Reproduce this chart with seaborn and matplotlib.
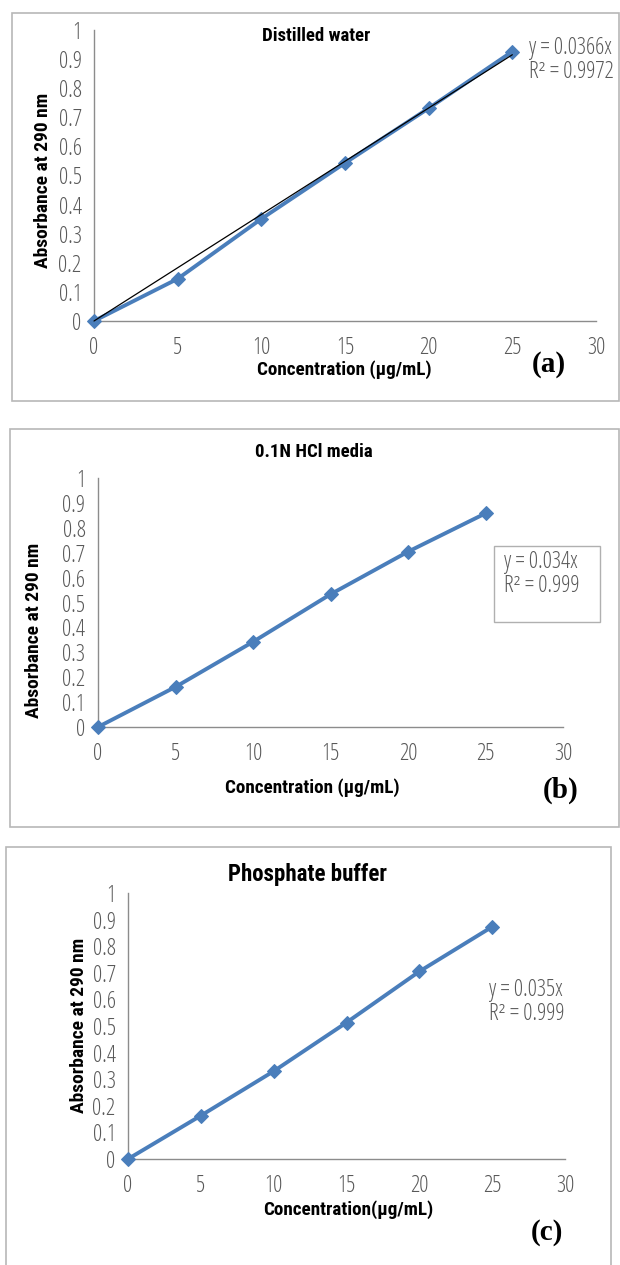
import matplotlib
matplotlib.use("Agg")
import matplotlib.pyplot as plt
from matplotlib import font_manager
from matplotlib.font_manager import FontProperties
from matplotlib.patches import Rectangle
import numpy as np
import pandas as pd
import seaborn as sns

# Calibration data
concentration = [0, 5, 10, 15, 20, 25]
abs_water = [0.0, 0.145, 0.351, 0.543, 0.731, 0.926]
abs_hcl = [0.0, 0.161, 0.342, 0.533, 0.704, 0.858]
abs_phosphate = [0.0, 0.163, 0.330, 0.513, 0.705, 0.873]
water_slope = 0.0366

titles = ["Distilled water", "0.1N HCl media", "Phosphate buffer"]
xlabels = ["Concentration (µg/mL)", "Concentration (µg/mL)", "Concentration(µg/mL)"]
ylabel = "Absorbance at 290 nm"
equations = ["y = 0.0366x\nR² = 0.9972", "y = 0.034x\nR² = 0.999", "y = 0.035x\nR² = 0.999"]
panel_tags = ["(a)", "(b)", "(c)"]
xticks = [0, 5, 10, 15, 20, 25, 30]
yticks = [0, 0.1, 0.2, 0.3, 0.4, 0.5, 0.6, 0.7, 0.8, 0.9, 1]
ytick_labels = ["0", "0.1", "0.2", "0.3", "0.4", "0.5", "0.6", "0.7", "0.8", "0.9", "1"]

sns.set_theme(style="white")


def _w(v):
    if isinstance(v, str):
        return font_manager.weight_dict.get(v, 400)
    return int(v)


NARROW = {"condensed", "semi-condensed", "extra-condensed", "ultra-condensed"}
FAMILIES = ["Liberation Sans Narrow", "Noto Sans", "Open Sans", "Roboto Condensed",
            "Roboto", "DejaVu Sans", "Lato", "Inter"]


def find_font(weights, narrow=True):
    for name in FAMILIES:
        for w in weights:
            for f in font_manager.fontManager.ttflist:
                if f.name != name or f.style != "normal":
                    continue
                is_narrow = (f.stretch in NARROW) or ("Narrow" in name) or ("Condensed" in name)
                if narrow and not is_narrow:
                    continue
                if _w(f.weight) == w:
                    return f.fname
    return None


light_path = find_font([300, 200, 400])
bold_path = find_font([700, 600, 800])
fp_light = FontProperties(fname=light_path) if light_path else FontProperties(family="DejaVu Sans")
fp_bold = FontProperties(fname=bold_path) if bold_path else FontProperties(family="DejaVu Sans", weight="bold")
narrow_found = light_path is not None

W, H = 620, 1265
fig = plt.figure(figsize=(W / 100, H / 100), dpi=100)
fig.patch.set_facecolor("white")

BLUE = "#4a7ebb"
GREY_TXT = "#595959"
AXIS = "#8c8c8c"
TICK_FS = 16.5 if narrow_found else 12.5
EQ_FS = 16.5 if narrow_found else 11.5


def fx(px):
    return px / W


def fy(py):
    return 1 - py / H


def add_axes(x0, x1, y_top, y_bot):
    return fig.add_axes([fx(x0), fy(y_bot), fx(x1 - x0), (y_bot - y_top) / H])


# panel frames (pixel coordinates: left, top, right, bottom)
frames = [(12, 13, 619, 401), (10, 429, 619, 827), (6, 847, 611, 1275)]
for l, t, r, b in frames:
    fig.patches.append(Rectangle((fx(l), fy(b)), fx(r - l), (b - t) / H,
                                 transform=fig.transFigure, fill=False,
                                 edgecolor="#b8b8b8", linewidth=1.2, zorder=0))

axes_px = [(94, 596, 30, 321), (98, 563, 478, 727), (128, 565, 893, 1159)]
series = [abs_water, abs_hcl, abs_phosphate]

for i, (x0, x1, yt, yb) in enumerate(axes_px):
    ax = add_axes(x0, x1, yt, yb)
    df = pd.DataFrame({"conc": concentration, "abs": series[i]})
    sns.lineplot(data=df, x="conc", y="abs", ax=ax, color=BLUE, linewidth=2.8,
                 marker="D", markersize=7, markeredgecolor=BLUE, zorder=3)
    if i == 0:
        xs = np.array([0, concentration[-1]])
        ax.plot(xs, water_slope * xs, color="black", linewidth=0.9, zorder=4)
    ax.set_xlim(0, 30)
    ax.set_ylim(0, 1)
    ax.set_xticks(xticks)
    ax.set_yticks(yticks)
    ax.set_xticklabels([str(t) for t in xticks], fontproperties=fp_light, fontsize=TICK_FS)
    ax.set_yticklabels(ytick_labels, fontproperties=fp_light, fontsize=TICK_FS)
    ax.tick_params(axis="both", direction="out", length=4, width=0.9, color=AXIS,
                   labelcolor=GREY_TXT)
    ax.tick_params(axis="y", pad=5)
    ax.tick_params(axis="x", pad=7)
    for s in ["top", "right"]:
        ax.spines[s].set_visible(False)
    for s in ["left", "bottom"]:
        ax.spines[s].set_color(AXIS)
        ax.spines[s].set_linewidth(1.0)
    ax.set_xlabel("")
    ax.set_ylabel("")
    ax.patch.set_alpha(0)
    for ln in ax.get_lines():
        ln.set_clip_on(False)


def ftext(x, y, s, fp, size, **kw):
    prop = fp.copy()
    prop.set_size(size)
    return fig.text(fx(x), fy(y), s, fontproperties=prop, **kw)


# titles
ftext(316, 36, titles[0], fp_bold, 13.5, ha="center", va="center", color="black")
ftext(314, 452, titles[1], fp_bold, 13.5, ha="center", va="center", color="black")
ftext(308, 875, titles[2], fp_bold, 16.5, ha="center", va="center", color="black")

# axis labels
for (xc, yc), lab in zip([(344, 370), (312, 788), (348, 1210)], xlabels):
    ftext(xc, yc, lab, fp_bold, 13.8, ha="center", va="center", color="black")
for (xc, yc) in [(43, 180), (34, 630), (79, 1025)]:
    ftext(xc, yc, ylabel, fp_bold, 14, ha="center", va="center", rotation=90, color="black")

# regression equations
ftext(529, 60, equations[0], fp_light, EQ_FS, ha="left", va="center", color=GREY_TXT, linespacing=0.95)
ftext(504, 574, equations[1], fp_light, EQ_FS, ha="left", va="center", color=GREY_TXT, linespacing=0.95)
fig.patches.append(Rectangle((fx(494), fy(622)), fx(600 - 494), (622 - 546) / H,
                             transform=fig.transFigure, fill=False,
                             edgecolor="#b0b0b0", linewidth=1.0))
ftext(489, 1002, equations[2], fp_light, EQ_FS, ha="left", va="center", color=GREY_TXT, linespacing=0.95)

# panel tags
for (xc, yc), tag in zip([(549, 365), (561, 790), (547, 1233)], panel_tags):
    fig.text(fx(xc), fy(yc), tag, ha="center", va="center", fontsize=21,
             fontweight="bold", family=["Liberation Serif", "DejaVu Serif"], color="black")

fig.savefig("out.png", dpi=100, facecolor="white")
